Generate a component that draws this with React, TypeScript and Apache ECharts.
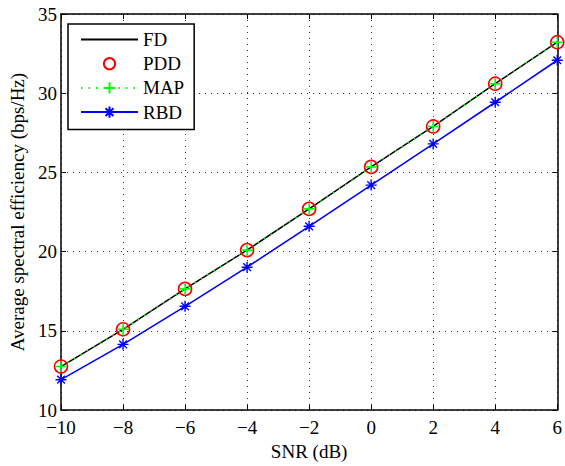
import React, { useEffect, useRef } from "react";
import * as echarts from "echarts";

const snr = [-10, -8, -6, -4, -2, 0, 2, 4, 6];
const fd = [12.75, 15.1, 17.65, 20.1, 22.7, 25.35, 27.9, 30.6, 33.22];
const pdd = [12.75, 15.1, 17.65, 20.1, 22.7, 25.35, 27.9, 30.6, 33.22];
const map = [12.75, 15.1, 17.65, 20.1, 22.7, 25.35, 27.9, 30.6, 33.22];
const rbd = [11.92, 14.15, 16.55, 19.02, 21.6, 24.2, 26.8, 29.43, 32.08];
const seriesNames = ["FD", "PDD", "MAP", "RBD"];

const pair = (ys: number[]) => snr.map((x, i) => [x, ys[i]]);

const FONT = "Liberation Serif";
const FS = 19;
const PLUS = "path://M0,-1L0,1M-1,0L1,0";
const STAR = "path://M0,-1L0,1M-1,0L1,0M-0.7,-0.7L0.7,0.7M-0.7,0.7L0.7,-0.7";
const NOTHING = "path://M0,0L1,0L1,1L0,1Z";

export default function App() {
  const ref = useRef<HTMLDivElement>(null);
  useEffect(() => {
    if (!ref.current) return;
    const chart = echarts.init(ref.current, undefined, { renderer: "svg" });
    const baseX = {
      type: "value" as const,
      min: -10,
      max: 6,
      interval: 2,
    };
    const baseY = {
      type: "value" as const,
      min: 10,
      max: 35,
      interval: 5,
    };
    const axisLine = { show: true, onZero: false, lineStyle: { color: "#000", width: 1.5 } };
    const axisTick = { show: true, inside: true, length: 5, lineStyle: { color: "#000", width: 1 } };
    const label = { color: "#000", fontFamily: FONT, fontSize: FS };
    const split = { show: true, lineStyle: { color: "#333", type: [1, 5], width: 1 } };
    chart.setOption({
      animation: false,
      backgroundColor: "#fff",
      grid: { left: 59, right: 6, top: 14, bottom: 50, containLabel: false },
      xAxis: [
        {
          ...baseX,
          position: "bottom",
          name: "SNR (dB)",
          nameLocation: "middle",
          nameGap: 29,
          nameTextStyle: { color: "#000", fontFamily: FONT, fontSize: FS },
          axisLine,
          axisTick,
          axisLabel: { ...label, margin: 8, formatter: (v: number) => (v < 0 ? "\u2212" + Math.abs(v) : String(v)) },
          splitLine: split,
        },
        {
          ...baseX,
          position: "top",
          axisLine,
          axisTick,
          axisLabel: { show: false },
          splitLine: { show: false },
        },
      ],
      yAxis: [
        {
          ...baseY,
          position: "left",
          name: "Average spectral efficiency (bps/Hz)",
          nameLocation: "middle",
          nameGap: 34,
          nameTextStyle: { color: "#000", fontFamily: FONT, fontSize: FS },
          axisLine,
          axisTick,
          axisLabel: { ...label, margin: 4 },
          splitLine: split,
        },
        {
          ...baseY,
          position: "right",
          axisLine,
          axisTick,
          axisLabel: { show: false },
          splitLine: { show: false },
        },
      ],
      legend: {
        orient: "vertical",
        left: 68,
        top: 24,
        data: seriesNames,
        selectedMode: false,
        itemWidth: 57,
        itemHeight: 14,
        itemGap: 5.2,
        padding: [6, 10, 8, 12],
        backgroundColor: "#fff",
        borderColor: "#000",
        borderWidth: 1.5,
        borderRadius: 0,
        textStyle: { color: "#000", fontFamily: FONT, fontSize: FS, lineHeight: 17.5 },
      },
      series: [
        {
          name: "FD",
          type: "line",
          data: pair(fd),
          symbol: NOTHING,
          symbolSize: 1,
          lineStyle: { color: "#000", width: 1.5 },
          itemStyle: { color: "rgba(0,0,0,0)", borderColor: "rgba(0,0,0,0)", borderWidth: 0 },
        },
        {
          name: "PDD",
          type: "line",
          data: pair(pdd),
          symbol: "circle",
          symbolSize: 13,
          lineStyle: { width: 0, opacity: 0 },
          itemStyle: { color: "rgba(0,0,0,0)", borderColor: "#ff0000", borderWidth: 1.6 },
        },
        {
          name: "MAP",
          type: "line",
          data: pair(map),
          symbol: PLUS,
          symbolSize: 11,
          lineStyle: { color: "#00ff00", width: 1.5, type: [1.5, 6] },
          itemStyle: { color: "#00ff00", borderColor: "#00ff00", borderWidth: 1.6 },
        },
        {
          name: "RBD",
          type: "line",
          data: pair(rbd),
          symbol: STAR,
          symbolSize: 11,
          lineStyle: { color: "#0000ff", width: 1.6 },
          itemStyle: { color: "#0000ff", borderColor: "#0000ff", borderWidth: 1.4 },
        },
      ],
    });
    return () => chart.dispose();
  }, []);
  return <div ref={ref} style={{ width: 565, height: 466, position: "absolute", left: 0, top: 0 }} />;
}
